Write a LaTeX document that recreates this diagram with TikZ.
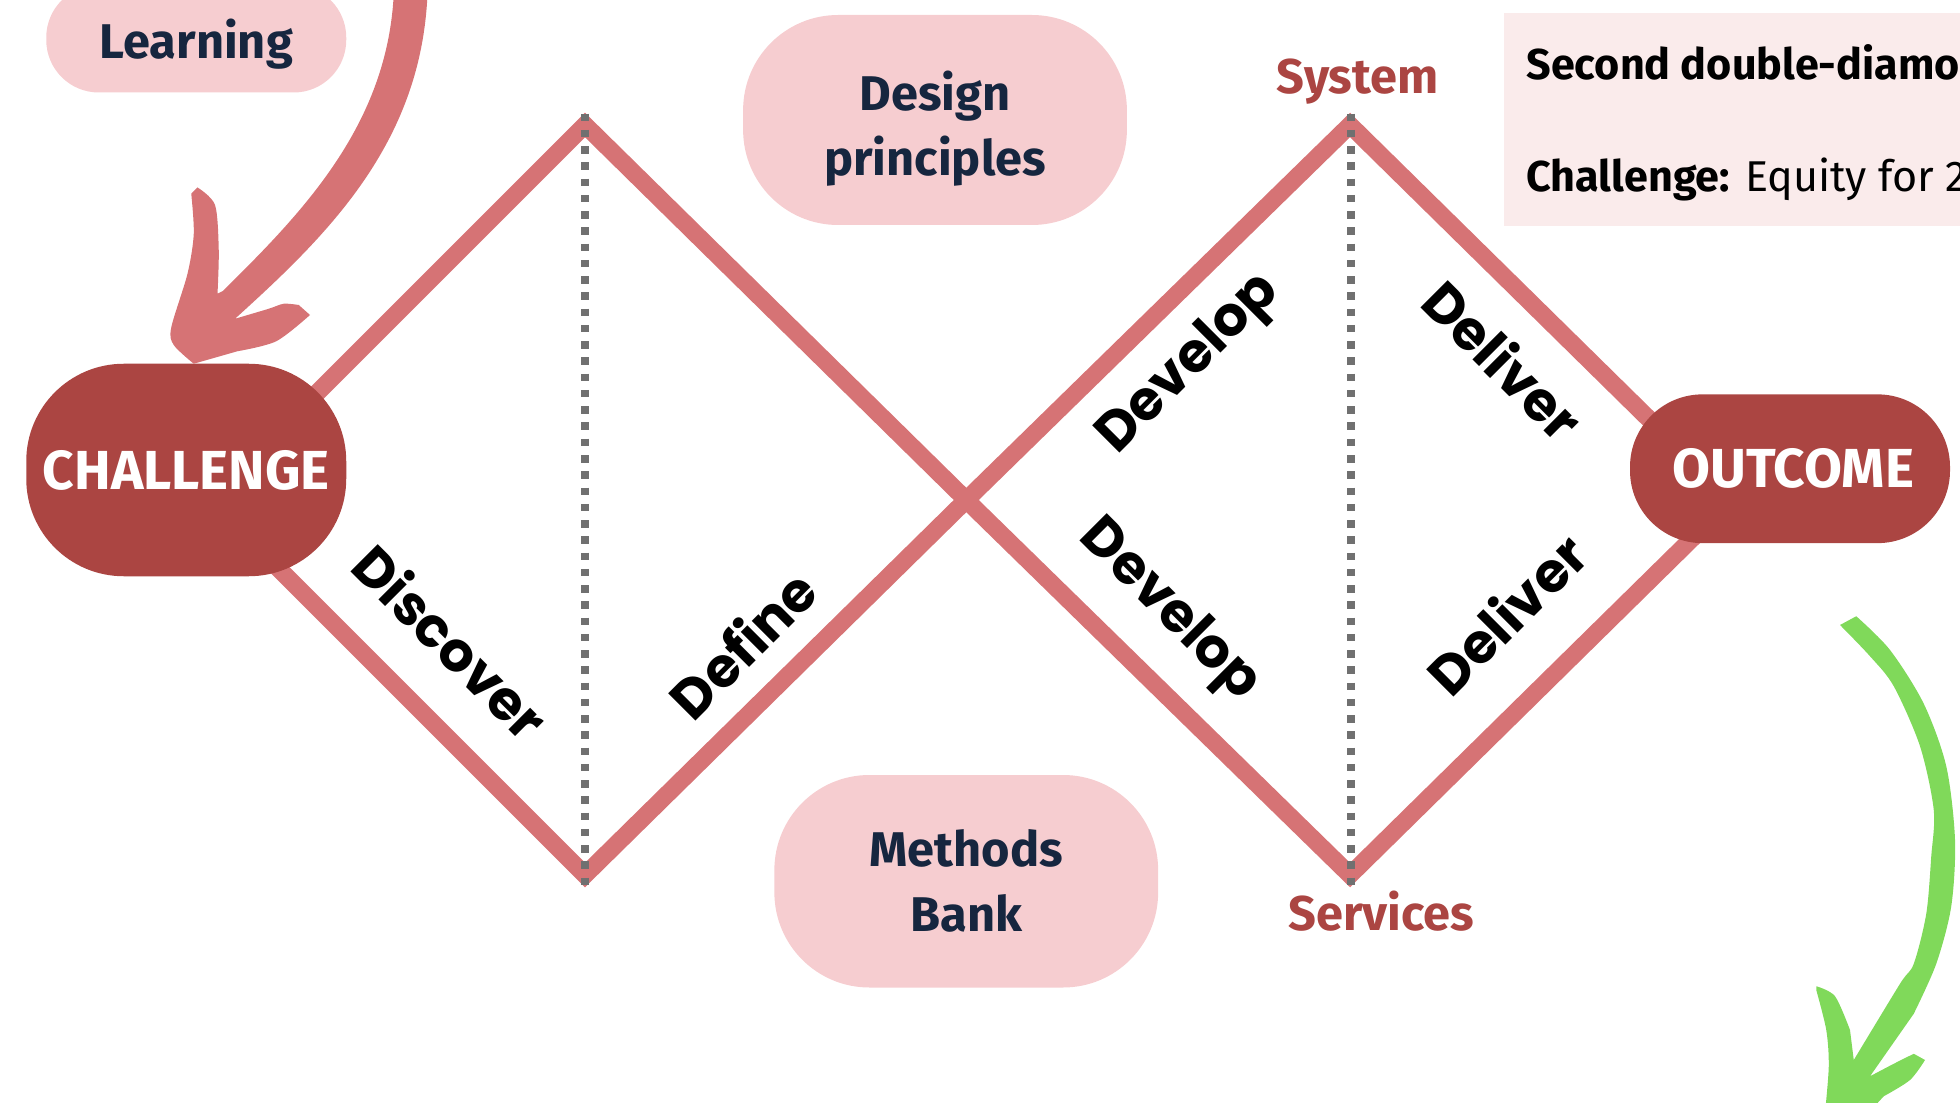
\documentclass[tikz,border=0pt]{standalone}
\usepackage{fontspec}
\setmainfont{Fira Sans}
\newfontfamily\phasefont{Poppins}

\definecolor{rose}{HTML}{D67375}
\definecolor{pillpink}{HTML}{F6CDD0}
\definecolor{wine}{HTML}{AB4542}
\definecolor{navy}{HTML}{16263F}
\definecolor{blush}{HTML}{FAEBEB}
\definecolor{leaf}{HTML}{80D95A}
\definecolor{dotgrey}{HTML}{707070}

\begin{document}
\begin{tikzpicture}[x=1pt,y=-1pt,
  diamondline/.style={draw=rose, line width=14pt, line join=miter},
  divider/.style={draw=dotgrey, line width=6.5pt, dash pattern=on 6pt off 7pt},
  pill/.style={fill=pillpink, rounded corners=#1, text=navy, inner sep=0pt,
    font=\bfseries\fontsize{39}{52}\selectfont, align=center},
  endpill/.style={fill=wine, rounded corners=#1, text=white, inner sep=0pt,
    font=\bfseries\fontsize{44}{50}\selectfont},
  phase/.style={font=\phasefont\bfseries\fontsize{44}{50}\selectfont, text=black, inner sep=0pt},
  level/.style={font=\bfseries\fontsize{39}{46}\selectfont, text=wine, inner sep=0pt},
  infotext/.style={font=\fontsize{34.5}{40}\selectfont, text=black, inner sep=0pt, anchor=base west},
]
\useasboundingbox (0,0) rectangle (1568,882);
\clip (0,0) rectangle (1568,882);

% diamond corners
\coordinate (d1l) at (168,400);
\coordinate (d1t) at (468,100);
\coordinate (mid) at (773,400);
\coordinate (d1b) at (468,700);
\coordinate (d2t) at (1080,100);
\coordinate (d2r) at (1385,400);
\coordinate (d2b) at (1080,700);

% the two diamonds
\draw[diamondline] (d1l) -- (d1t) -- (mid) -- (d1b) -- cycle;
\draw[diamondline] (mid) -- (d2t) -- (d2r) -- (d2b) -- cycle;

% dotted dividers
\coordinate (v1t) at (468,91);
\coordinate (v1b) at (468,710);
\coordinate (v2t) at (1081,91);
\coordinate (v2b) at (1081,710);
\draw[divider] (v1t) -- (v1b);
\draw[divider] (v2t) -- (v2b);

% phase labels
\node[phase, rotate=-45] (discover) at (361,513) {Discover};
\node[phase, rotate=45] (define) at (594,515) {Define};
\node[phase, rotate=45] (develop1) at (952,292) {Develop};
\node[phase, rotate=-45] (deliver1) at (1203,288) {Deliver};
\node[phase, rotate=-45] (develop2) at (935,489) {Develop};
\node[phase, rotate=45] (deliver2) at (1205,491) {Deliver};

% level labels
\node[level] (system) at (1086,65) {System};
\node[level] (services) at (1105,729) {Services};

% light pills
\node[pill=42, minimum width=240pt, minimum height=86pt] (learning) at (157,31)
  {\raisebox{-4pt}[\height][\depth]{Learning}};
\node[pill=76, minimum width=307pt, minimum height=168pt] (design) at (748,96)
  {\raisebox{-8pt}[\height][\depth]{\begin{tabular}{@{}c@{}}Design\\principles\end{tabular}}};
\node[pill=76, minimum width=307pt, minimum height=170pt] (methods) at (773,705) {Methods\\Bank};

% start and end pills
\node[endpill=78, minimum width=256pt, minimum height=170pt] (challenge) at (149,376) {CHALLENGE};
\node[endpill=58, minimum width=256pt, minimum height=119pt] (outcome) at (1432,375) {\hspace*{5pt}OUTCOME};

% info panel
\node[fill=blush, anchor=north west, minimum width=420pt, minimum height=171pt, inner sep=0pt] (info) at (1203,10) {};
\node[infotext] (infotitle) at (1221,64) {\bfseries Second double-diamond};
\node[infotext] (infochallenge) at (1221,153) {\textbf{Challenge:} Equity for 2};

% hand-drawn arrow from learning into the challenge
\fill[rose] (315,-5) .. controls (310,100) and (242,170) .. (178,233)
  -- plot[smooth] coordinates {(174,235) (175,200) (172,164) (158,150)}
  -- plot[smooth] coordinates {(153,155) (155,187) (150,219) (137,262) (139,276) (155,291)}
  -- plot[smooth] coordinates {(190,281) (221,273) (248,252)}
  -- plot[smooth] coordinates {(239,244) (227,243) (215,247) (188,255)}
  .. controls (262,188) and (337,115) .. (342,-5) -- cycle;

% hand-drawn arrow leaving the outcome
\fill[leaf] (1472,500) -- plot[smooth] coordinates {(1472,500) (1496,525) (1515,549) (1536,597) (1547,648) (1545,685) (1541,731) (1531,771) (1520,787) (1483,848)}
  -- plot[smooth] coordinates {(1480,824) (1468,797) (1453,789)}
  -- plot[smooth] coordinates {(1453,792) (1461,824) (1463,853) (1460,890)}
  -- (1495,890)
  -- plot[smooth] coordinates {(1507,877) (1528,864) (1540,848)}
  -- plot[smooth] coordinates {(1531,843) (1515,851) (1496,861)}
  -- plot[smooth] coordinates {(1531,811) (1549,771) (1561,725) (1564,672) (1557,613) (1539,563) (1512,520) (1485,493)}
  -- cycle;
\end{tikzpicture}
\end{document}
